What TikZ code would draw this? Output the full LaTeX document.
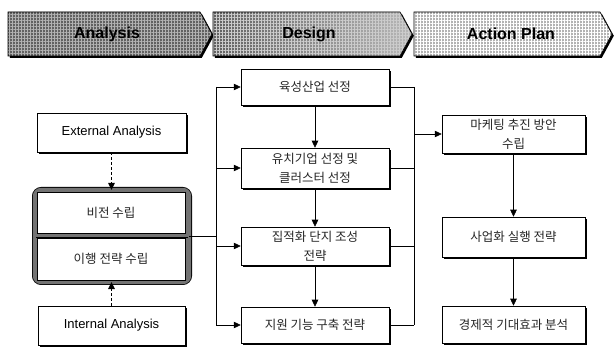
\documentclass[tikz,border=0pt]{standalone}
\usepackage{fontspec}
\setmainfont{Liberation Sans}
\newfontfamily\kr{Noto Sans CJK KR}
\usetikzlibrary{arrows.meta,patterns.meta,shadows}
\begin{document}
\begin{tikzpicture}[x=1pt,y=-1pt,
  box/.style 2 args={draw=black, line width=0.5pt, fill=white, minimum width=#1, minimum height=#2, inner sep=1pt, align=center},
  shbox/.style 2 args={box={#1}{#2}, drop shadow={shadow xshift=2pt, shadow yshift=-2pt, fill=black, opacity=1}},
  entext/.style={font=\fontsize{13}{15}\selectfont},
  krtext/.style={font=\kr\fontsize{12.5}{19}\selectfont, text=black!85},
  chevtext/.style={font=\bfseries\fontsize{16}{18}\selectfont},
  conn/.style={draw=black, line width=0.6pt},
  arr/.style={conn, -{Triangle[length=7pt,width=6.5pt]}},
  darr/.style={draw=black, line width=1.2pt, dash pattern=on 3pt off 2pt, -{Triangle[length=7pt,width=6.5pt]}},
  chevedge/.style={draw=black, line width=0.6pt},
  grid/.style={pattern={Hatch[angle=0,distance=3pt,line width=0.7pt]}}
]
\useasboundingbox (0,0) rectangle (614,347);
\fill[white] (0,0) rectangle (614,347);

% ---------- chevrons ----------
\fill[black, shift={(1.8,1.8)}] (8,12) -- (200,12) -- (212,34) -- (200,56) -- (8,56) -- cycle;
\fill[black, shift={(1.8,1.8)}] (213,12) -- (400,12) -- (412,34) -- (400,56) -- (213,56) -- cycle;
\fill[black, shift={(1.8,1.8)}] (414,12) -- (600,12) -- (612,34) -- (600,56) -- (414,56) -- cycle;
% Analysis
\fill[black!62] (8,12) -- (200,12) -- (212,34) -- (200,56) -- (8,56) -- cycle;
\path[grid, pattern color=black!30] (8,12) -- (200,12) -- (212,34) -- (200,56) -- (8,56) -- cycle;
\path[chevedge] (8,12) -- (200,12) -- (212,34) -- (200,56) -- (8,56) -- cycle;
% Design
\shade[left color=black!62, right color=black!28] (213,12) -- (400,12) -- (412,34) -- (400,56) -- (213,56) -- cycle;
\path[grid, pattern color=white!80!black] (213,12) -- (400,12) -- (412,34) -- (400,56) -- (213,56) -- cycle;
\path[chevedge] (213,12) -- (400,12) -- (412,34) -- (400,56) -- (213,56) -- cycle;
% Action Plan
\fill[black!30] (414,12) -- (600,12) -- (612,34) -- (600,56) -- (414,56) -- cycle;
\path[grid, pattern color=white] (414,12) -- (600,12) -- (612,34) -- (600,56) -- (414,56) -- cycle;
\path[chevedge] (414,12) -- (600,12) -- (612,34) -- (600,56) -- (414,56) -- cycle;

\node[chevtext] (tA) at (107,34) {Analysis};
\node[chevtext] (tD) at (309,34) {Design};
\node[chevtext] (tP) at (511,34) {Action Plan};

% ---------- left column ----------
\node[shbox={149pt}{39pt}, entext] (ext) at (111.5,132.5) {External Analysis};
\node[shbox={147pt}{39pt}, entext] (int) at (111.5,325.5) {Internal Analysis};

\node[draw=black, line width=0.8pt, double=black!55, double distance=5pt,
      rounded corners=6pt, minimum width=153.4pt, minimum height=91.4pt, inner sep=0pt] (grp) at (112,236) {};
\draw[draw=black, line width=0.6pt, double=black!55, double distance=4pt] (36,235.5) -- (188,235.5);
\node[box={148pt}{41pt}, krtext] (vis) at (111,212.5) {비전 수립};
\node[box={148pt}{42pt}, krtext] (tra) at (111,259) {이행 전략 수립};

\draw[darr] (ext.south) -- (ext.south |- grp.north);
\draw[darr] (int.north) -- (int.north |- grp.south);

% ---------- center column ----------
\node[shbox={148pt}{36pt}, krtext] (c1) at (315,87) {육성산업 선정};
\node[shbox={148pt}{40pt}, krtext] (c2) at (315,168) {유치기업 선정 및\\클러스터 선정};
\node[shbox={148pt}{38pt}, krtext] (c3) at (315,246) {집적화 단지 조성\\전략};
\node[shbox={148pt}{36pt}, krtext] (c4) at (315,325) {지원 기능 구축 전략};

% ---------- right column ----------
\node[shbox={143pt}{38pt}, krtext] (r1) at (513.5,134) {마케팅 추진 방안\\수립};
\node[shbox={143pt}{40pt}, krtext] (r2) at (513.5,237) {사업화 실행 전략};
\node[shbox={143pt}{37pt}, krtext] (r3) at (513.5,324.5) {경제적 기대효과 분석};

% ---------- connectors ----------
\coordinate (bl) at (216,0);
\coordinate (br) at (414,0);
\draw[conn] (grp.east) -- (bl |- grp.east);
\draw[conn] (bl |- c1) -- (bl |- c4);
\foreach \n in {c1,c2,c3,c4} \draw[arr] (bl |- \n) -- (\n.west);
\draw[arr] (c1) -- (c2);
\draw[arr] (c2) -- (c3);
\draw[arr] (c3) -- (c4);
\foreach \n in {c1,c2,c3,c4} \draw[conn] (\n.east) -- (br |- \n);
\draw[conn] (br |- c1) -- (br |- c4);
\draw[arr] (br |- r1) -- (r1.west);
\draw[arr] (r1) -- (r2);
\draw[arr] (r2) -- (r3);
\end{tikzpicture}
\end{document}
